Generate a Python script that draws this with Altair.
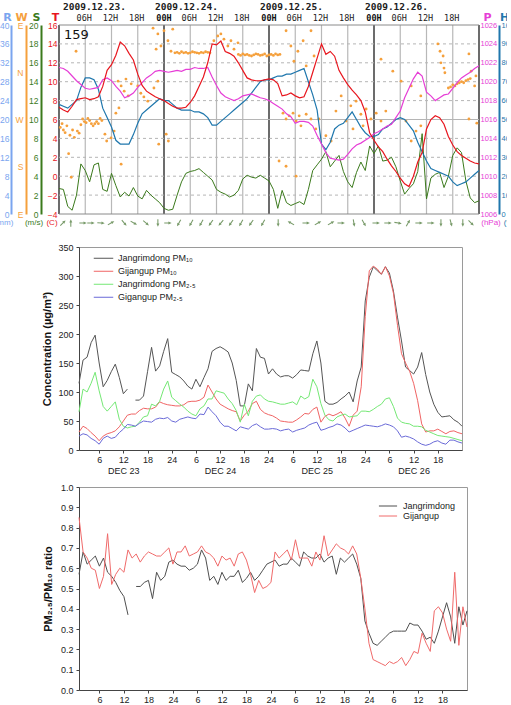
import altair as alt
import pandas as pd

# ---------------- top panel data (hourly, hour 0 = 2009-12-23 00H) ----------------
met_hours = list(range(0, 97))
temp_c = [7.3, 7.0, 6.8, 7.4, 8.1, 8.2, 8.3, 8.1, 8.2, 8.4,
          9.5, 11.2, 11.8, 12.8, 14.2, 13.8, 13.0, 12.3, 10.8, 9.6,
          9.0, 8.7, 8.4, 8.2, 8.0, 7.7, 7.4, 7.2, 7.2, 7.3,
          7.8, 8.5, 9.5, 10.5, 12.0, 14.0, 13.9, 14.3, 13.2, 13.0,
          12.7, 12.0, 11.2, 10.4, 10.2, 10.1, 10.1, 10.2, 10.3, 10.2,
          9.8, 8.5, 8.6, 8.8, 8.5, 8.3, 8.4, 9.5, 11.0, 12.5,
          14.0, 12.9, 13.2, 12.7, 11.2, 10.4, 9.7, 9.1, 8.6, 8.0,
          6.8, 4.6, 3.8, 3.1, 2.6, 1.8, 1.1, 0.5, -0.2, -0.8,
          -1.1, 0.0, 1.5, 2.5, 5.0, 6.0, 6.4, 6.2, 5.5, 4.2,
          3.3, 2.6, 2.2, 1.9, 1.6, 1.4, 1.3]
rh_pct = [58, 57, 56, 58, 60, 67, 72, 72, 71, 66,
          56, 51, 46, 39, 37, 37, 37, 42, 48, 53,
          55, 57, 59, 61, 60, 60, 58, 56, 55, 55,
          55, 54, 54, 53, 51, 47, 47, 49, 51, 53,
          55, 57, 59, 61, 64, 67, 70, 71, 71, 72,
          73, 73, 74, 74, 75, 76, 77, 70, 63, 55,
          37, 34, 38, 45, 47, 48, 51, 54, 50, 46,
          43, 41, 41, 42, 45, 46, 48, 50, 51, 50,
          47, 44, 38, 33, 28, 24, 23, 22, 21, 20,
          17, 15, 16, 17, 19, 21, 23]
press_hpa = [1021.5, 1021.4, 1021.1, 1020.6, 1020.1, 1019.7, 1019.3, 1019.2, 1019.3, 1019.4,
             1020.2, 1020.4, 1020.1, 1019.5, 1019.0, 1018.3, 1018.5, 1018.8, 1019.4, 1019.9,
             1020.4, 1020.7, 1021.1, 1021.2, 1021.1, 1021.0, 1021.1, 1021.2, 1021.1, 1021.3,
             1021.3, 1021.5, 1021.4, 1021.4, 1021.5, 1020.5, 1019.6, 1018.8, 1018.4, 1018.2,
             1018.0, 1018.2, 1018.5, 1018.6, 1018.7, 1018.5, 1018.3, 1018.2, 1018.0, 1017.7,
             1017.4, 1017.1, 1016.6, 1016.3, 1015.6, 1015.8, 1015.8, 1015.7, 1015.3, 1014.3,
             1013.4, 1012.5, 1011.9, 1011.8, 1011.7, 1011.8, 1012.3, 1012.9, 1013.3, 1013.5,
             1013.8, 1014.1, 1014.5, 1014.7, 1015.0, 1015.3, 1015.5, 1016.2, 1016.9, 1018.3,
             1019.3, 1020.3, 1021.0, 1020.6, 1018.9, 1018.5, 1018.0, 1018.3, 1018.6, 1018.7,
             1019.3, 1019.9, 1020.4, 1020.7, 1021.0, 1021.4, 1021.7]
wspd_ms = [2.7, 2.6, 0.8, 0.4, 2.0, 5.3, 4.6, 3.4, 5.2, 5.4,
           2.6, 2.4, 4.3, 3.0, 1.8, 2.3, 1.9, 2.8, 1.9, 1.6,
           2.5, 2.0, 1.6, 1.2, 0.6, 0.4, 0.5, 2.0, 3.4, 4.3,
           4.5, 4.6, 4.8, 4.4, 4.0, 3.6, 2.6, 2.3, 2.1, 1.8,
           2.0, 2.5, 3.7, 4.1, 3.9, 3.8, 4.1, 3.8, 3.5, 2.6,
           0.6, 2.5, 1.2, 0.9, 1.1, 1.3, 1.0, 2.6, 4.6, 5.2,
           5.8, 6.6, 5.0, 5.6, 6.2, 4.5, 3.4, 2.8, 4.4, 5.5,
           4.6, 7.2, 6.4, 7.2, 5.6, 5.7, 6.0, 5.0, 3.5, 2.1,
           2.7, 3.2, 4.5, 8.5, 1.6, 3.8, 4.2, 4.4, 2.8, 4.0,
           6.2, 7.0, 6.5, 3.5, 1.7, 1.2, 1.4]
rain_hours = [0, 96]
rain_mm = [0, 0]

# wind direction scatter (axis units: 90=E, 180=S, 270=W, 360=N, 450=E)
wdir_hour = [0.3, 0.7, 1.0, 1.4, 1.8, 2.2, 2.5, 2.8, 3.1, 3.5, 3.9, 4.2, 4.6, 5.0, 5.4, 5.8, 6.2, 6.6, 7.0, 7.4,
             7.8, 8.2, 8.6, 9.0, 9.4, 9.8,
             10.5, 10.9, 11.9, 12.6, 13.0, 13.5, 13.7, 14.2, 14.2, 14.9, 15.3, 15.8, 16.5,
             18.0, 18.7, 19.4, 20.3, 21.5, 21.7, 22.2, 22.6, 22.6, 22.8, 23.3, 24.0, 24.5, 24.9, 25.0, 25.6, 26.0,
             26.5, 27.0, 27.5, 28.0, 28.5, 29.0, 29.5, 30.0, 30.5, 31.0, 31.5, 32.0, 32.5, 33.0, 33.5, 34.0, 34.5,
             35.4, 36.3, 37.0, 37.7, 38.6, 39.3, 40.0, 40.9,
             41.0, 41.5, 42.0, 42.5, 43.0, 43.5, 44.0, 44.5, 45.0, 45.5, 46.0, 46.5, 47.0, 47.5, 48.0, 48.5,
             49.0, 49.5, 50.0, 50.5,
             51.2, 51.9, 51.9, 52.6, 53.0, 53.5, 53.7, 54.2, 54.6, 54.9, 55.3, 55.8, 56.5, 56.5, 57.6, 57.6,
             58.3, 58.7, 59.4, 61.0, 62.2, 50.3, 51.9, 54.2,
             63.3, 64.5, 65.6, 66.7, 67.2, 67.9, 69.0, 69.5, 70.2, 71.3, 72.5, 73.6, 74.7,
             73.6, 76.3, 78.2, 79.3, 80.5, 80.5, 81.6, 82.7, 82.7,
             86.6, 87.1, 87.3, 87.8, 88.0, 88.2,
             89.0, 89.5, 90.0, 90.5, 91.0, 91.5, 92.0, 92.5, 93.0, 93.5, 94.0,
             93.7, 93.7, 94.2, 95.0, 95.3, 95.5]
wdir_deg = [255, 262, 250, 245, 258, 205, 240, 160, 250, 236, 400, 248, 244, 260, 271, 266, 264, 272, 268, 262,
            258, 262, 266, 262, 272, 268,
            242, 229, 235, 248, 282, 343, 292, 334, 185, 324, 347, 315, 338,
            334, 320, 313, 305, 444, 330, 404, 343, 433, 223, 410, 439, 242, 420, 229, 400, 442,
            397, 398, 396, 399, 397, 398, 396, 397, 399, 398, 397, 396, 398, 397, 399, 398, 397,
            420, 429, 433, 423, 410, 420, 404, 416,
            394, 392, 395, 393, 394, 392, 391, 393, 395, 394, 392, 393, 395, 391, 393, 394,
            392, 395, 393, 394,
            282, 271, 439, 277, 410, 282, 381, 267, 400, 277, 258, 420, 280, 372, 271, 439,
            391, 252, 271, 239, 229, 191, 181, 162,
            286, 315, 267, 296, 252, 305, 280, 258, 290, 271, 282, 267, 286,
            385, 362, 343, 267, 334, 229, 248, 315, 258,
            414, 400, 378, 391, 368, 359,
            330, 332, 336, 334, 338, 340, 342, 340, 344, 346, 348,
            271, 395, 362, 334, 353, 263]

# wind arrows (direction the arrow points, degrees clockwise from up)
arrow_hour = [0.9, 2.7, 5.5, 7.3, 9.6, 11.9, 14.9, 17.1, 19.9, 22.6, 24.9, 27.4, 30.2, 32.5, 34.7, 37.0, 39.3,
              41.6, 43.9, 46.6, 50.1, 53.0, 56.5, 59.2, 62.2, 64.5, 67.4, 69.7, 72.5, 75.2, 77.5, 79.8, 82.3,
              85.0, 87.3, 89.6, 92.3, 94.2]
arrow_angle = [45, 0, 90, 90, 95, 60, 140, 120, 130, 180, 90, 210, 210, 210, 215, 220, 215,
               210, 215, 210, 180, 300, 90, 60, 60, 90, 170, 150, 90, 90, 100, 30, 90,
               90, 180, 165, 180, 135]
grid_hours = [0, 6, 12, 18, 24, 30, 36, 42, 48, 54, 60, 66, 72, 78, 84, 90, 96]
temp_grid = [-4, -2, 0, 2, 4, 6, 8, 10, 12, 14, 16]
hour_tick_hours = [6, 12, 18, 24, 30, 36, 42, 48, 54, 60, 66, 72, 78, 84, 90]
hour_tick_labels = ['06H', '12H', '18H', '00H', '06H', '12H', '18H', '00H', '06H', '12H', '18H', '00H',
                    '06H', '12H', '18H']
date_hours = [0, 24, 48, 72]
date_labels = ['2009.12.23.', '2009.12.24.', '2009.12.25.', '2009.12.26.']

# ---------------- middle / bottom panel data (hour 1 = Dec 23 01h) ----------------
conc_hour = list(range(1, 97))
jang_pm10 = [115, 155, 160, 185, 198, 150, 109, 120, 135, 148,
             125, 97, 105, None, 86, 86, 93, 135, 177, 136,
             145, 170, 192, 134, 130, 126, 119, 110, 105, 122,
             109, 125, 140, 170, 175, 178, 174, 169, 150, 120,
             76, 76, 114, 102, 175, 160, 158, 131, 140, 131,
             126, 128, 128, 124, 130, 138, 137, 136, 166, 188,
             150, 84, 79, 79, 82, 88, 93, 100, 83, 119,
             143, 257, 298, 316, 309, 303, 316, 305, 274, 229,
             188, 143, 137, 131, 143, 168, 130, 100, 79, 65,
             57, 58, 59, 52, 48, 41]
gij_pm10 = [31, 41, 37, 30, 24, 16, 24, 28, 30, 33,
            40, 50, 60, 62, 62, 68, 72, 71, 71, 74,
            83, 80, 78, 77, 76, 76, 78, 83, 84, 84,
            86, 91, 112, 100, 88, 79, 75, 71, 68, 66,
            50, 60, 67, 80, 84, 70, 64, 61, 59, 55,
            50, 49, 48, 48, 52, 57, 63, 62, 70, 74,
            48, 58, 62, 59, 62, 66, 55, 41, 60, 67,
            109, 230, 309, 317, 312, 303, 316, 300, 270, 215,
            166, 150, 136, 115, 85, 45, 31, 33, 33, 36,
            32, 28, 32, 33, 30, 28]
jang_pm25 = [66, 105, 100, 115, 134, 102, 75, 67, 75, 83,
             53, 41, 38, 40, 41, 48, 57, 59, 79, 76,
             84, 105, 119, 91, 85, 79, 74, 67, 62, 59,
             71, 76, 88, 88, 102, 100, 98, 88, 80, 68,
             48, 79, 59, 84, 93, 95, 88, 84, 83, 81,
             79, 79, 81, 83, 78, 93, 88, 92, 122, 109,
             80, 60, 52, 50, 57, 60, 62, 57, 58, 59,
             67, 67, 66, 70, 75, 79, 88, 90, 75, 55,
             48, 46, 45, 41, 41, 40, 34, 31, 28, 25,
             24, 23, 22, 20, 18, 16]
gig_pm25 = [24, 28, 26, 20, 16, 10, 20, 24, 20, 22,
            30, 36, 44, 43, 41, 46, 50, 49, 48, 53,
            55, 54, 56, 50, 48, 53, 55, 57, 55, 54,
            62, 61, 74, 66, 59, 48, 41, 41, 37, 33,
            40, 38, 36, 42, 45, 40, 36, 36, 37, 36,
            33, 35, 36, 31, 34, 36, 38, 43, 46, 48,
            34, 36, 39, 41, 45, 43, 38, 31, 34, 37,
            40, 43, 42, 41, 40, 42, 45, 43, 40, 33,
            22, 24, 22, 19, 14, 10, 8, 10, 14, 16,
            12, 10, 17, 17, 14, 12]
jang_ratio = [0.57, 0.68, 0.62, 0.64, 0.66, 0.61, 0.65, 0.58, 0.56, 0.53,
              0.49, 0.46, 0.37, None, 0.51, 0.51, 0.53, 0.54, 0.45, 0.58,
              0.54, 0.56, 0.63, 0.64, 0.62, 0.61, 0.61, 0.59, 0.60, 0.62,
              0.69, 0.65, 0.54, 0.56, 0.52, 0.58, 0.54, 0.56, 0.56, 0.59,
              0.53, 0.55, 0.58, 0.54, 0.56, 0.59, 0.62, 0.63, 0.64, 0.61,
              0.62, 0.62, 0.65, 0.63, 0.61, 0.68, 0.66, 0.65, 0.65, 0.67,
              0.63, 0.65, 0.66, 0.57, 0.65, 0.63, 0.65, 0.67, 0.62, 0.55,
              0.34, 0.28, 0.23, 0.22, 0.24, 0.26, 0.28, 0.29, 0.29, 0.29,
              0.29, 0.33, 0.32, 0.32, 0.29, 0.25, 0.26, 0.23, 0.29, 0.36,
              0.43, 0.36, 0.23, 0.41, 0.32, 0.39]
gij_ratio = [0.85, 0.68, 0.65, 0.60, 0.59, 0.50, 0.56, 0.77, 0.52, 0.57,
             0.60, 0.58, 0.69, 0.65, 0.67, 0.63, 0.66, 0.68, 0.67, 0.66,
             0.66, 0.68, 0.70, 0.62, 0.68, 0.68, 0.71, 0.66, 0.67, 0.68,
             0.71, 0.68, 0.67, 0.65, 0.61, 0.66, 0.64, 0.65, 0.61, 0.67,
             0.68, 0.64, 0.57, 0.48, 0.54, 0.50, 0.51, 0.53, 0.68, 0.65,
             0.67, 0.69, 0.64, 0.74, 0.65, 0.65, 0.65, 0.61, 0.68, 0.64,
             0.76, 0.66, 0.69, 0.72, 0.70, 0.69, 0.67, 0.71, 0.67, 0.55,
             0.40, 0.23, 0.15, 0.14, 0.13, 0.12, 0.14, 0.13, 0.14, 0.16,
             0.12, 0.15, 0.19, 0.18, 0.28, 0.23, 0.19, 0.39, 0.41, 0.38,
             0.30, 0.24, 0.58, 0.22, 0.41, 0.31]

conc_names = ['Jangrimdong PM\u2081\u2080', 'Gijangup PM\u2081\u2080',
              'Jangrimdong PM\u2082.\u2085', 'Gigangup PM\u2082.\u2085']
conc_colors = ['#555555', '#f06464', '#74e874', '#6a6ad8']
ratio_names = ['Jangrimdong', 'Gijangup']
ratio_colors = ['#4f4f4f', '#f06a6a']

# ---------------- styling ----------------
RED, BLUE, PINK, GREEN, ORANGE, RAIN = '#e8161e', '#1f77ad', '#e63ed6', '#3b7a1c', '#f5a03c', '#7aa5ef'
TOPFONT = 'DejaVu Sans'
MONO = 'DejaVu Sans Mono'
LF = 'Liberation Sans'
SHIFT = 20            # top plot starts 20 px left of the shared panel origin
PW, PH = 400, 189     # shared-origin width (plot spans -SHIFT .. PW)

xs = alt.Scale(domain=[0, 96], range=[-SHIFT, PW], nice=False, zero=False)
tscale = alt.Scale(domain=[-4, 16], nice=False, zero=False)
one = pd.DataFrame({'k': [1]})


def spacer(left, top, bottom):
    # invisible diagonal rule that fixes the outer extent of a panel
    return alt.Chart(one).mark_rule(strokeOpacity=0, strokeWidth=0).encode(
        x=alt.value(-left), y=alt.value(-top), x2=alt.value(0), y2=alt.value(bottom))


def side_axis(orient, offset, values, title, color, tx, domain_color=None, label_expr=None, pad=2,
              size=8.5, **extra):
    kw = dict(orient=orient, offset=offset, values=values, title=title, titleAngle=0, titleX=tx, titleY=-5,
              titleAlign='center', titleBaseline='alphabetic', titleColor=color, titleFont=TOPFONT,
              titleFontSize=11, titleFontWeight='bold', labelColor=color, labelFont=LF, labelFontSize=size,
              labelPadding=pad, ticks=False, grid=False)
    if domain_color:
        kw.update(domain=True, domainColor=domain_color, domainWidth=2)
    else:
        kw.update(domain=False)
    if label_expr:
        kw['labelExpr'] = label_expr
    kw.update(extra)
    return alt.Axis(**kw)


met = pd.DataFrame({'h': met_hours, 'T': temp_c, 'RH': rh_pct, 'P': press_hpa, 'S': wspd_ms})
wdir = pd.DataFrame({'h': wdir_hour, 'deg': wdir_deg})
rain = pd.DataFrame({'h': rain_hours, 'R': rain_mm})
arrows = pd.DataFrame({'h': arrow_hour, 'ang': arrow_angle})
dates_df = pd.DataFrame({'h': date_hours, 'label': date_labels})
hours_df = pd.DataFrame({'h': hour_tick_hours, 'label': hour_tick_labels})

xq = alt.X('h:Q', scale=xs, axis=None)

vgrid = alt.Chart(pd.DataFrame({'h': grid_hours})).mark_rule().encode(
    x=xq, y=alt.value(0), y2=alt.value(PH),
    color=alt.condition('datum.h % 24 == 0', alt.value('#6c6c6c'), alt.value('#b8b8b8')),
    strokeWidth=alt.condition('datum.h % 24 == 0', alt.value(2), alt.value(1.2)),
)
hgrid = alt.Chart(pd.DataFrame({'t': temp_grid})).mark_rule(strokeWidth=1).encode(
    x=alt.XDatum(0, scale=xs, axis=None), x2=alt.X2Datum(96),
    y=alt.Y('t:Q', scale=tscale, axis=None),
    color=alt.condition('datum.t == -4 || datum.t == 16', alt.value('#8a8a8a'), alt.value('#b5b5b5')),
    strokeDash=alt.condition('datum.t == 6 || datum.t == -4 || datum.t == 16',
                             alt.value([1, 0]), alt.value([3, 3])),
)
hour_norm = alt.Chart(hours_df).transform_filter('datum.h % 24 != 0').mark_text(
    baseline='alphabetic', font=MONO, fontSize=8.5, color='#222', dx=-1).encode(
    x=xq, y=alt.value(-4), text='label:N')
hour_bold = alt.Chart(hours_df).transform_filter('datum.h % 24 == 0').mark_text(
    baseline='alphabetic', font=MONO, fontSize=8.5, fontWeight='bold', color='#111', dx=0).encode(
    x=xq, y=alt.value(-4), text='label:N')
date_first = alt.Chart(dates_df).transform_filter('datum.h == 0').mark_text(
    align='left', baseline='alphabetic', font=MONO, fontSize=9.5, fontWeight='bold',
    color='#222', dx=4).encode(x=xq, y=alt.value(-15), text='label:N')
date_rest = alt.Chart(dates_df).transform_filter('datum.h > 0').mark_text(
    align='left', baseline='alphabetic', font=MONO, fontSize=9.5, fontWeight='bold',
    color='#222', dx=-9).encode(x=xq, y=alt.value(-15), text='label:N')

r_layer = alt.Chart(rain).mark_line(opacity=0).encode(
    x=xq,
    y=alt.Y('R:Q', scale=alt.Scale(domain=[0, 40], nice=False),
            axis=side_axis('left', SHIFT + 48, list(range(0, 41, 4)), 'R', RAIN, -4, domain_color=RAIN, pad=2)))
w_layer = alt.Chart(wdir).mark_circle(size=8, color=ORANGE, opacity=1).encode(
    x=xq,
    y=alt.Y('deg:Q', scale=alt.Scale(domain=[90, 450], nice=False, zero=False),
            axis=side_axis('left', SHIFT + 33, [90, 180, 270, 360, 450], 'W', ORANGE, -5, domain_color=ORANGE,
                           label_expr="datum.value == 180 ? 'S' : datum.value == 270 ? 'W' : datum.value == 360 ? 'N' : 'E'",
                           pad=3)))
s_layer = alt.Chart(met).mark_line(color=GREEN, strokeWidth=1).encode(
    x=xq,
    y=alt.Y('S:Q', scale=alt.Scale(domain=[0, 20], nice=False),
            axis=side_axis('left', SHIFT + 18, list(range(0, 21, 2)), 'S', GREEN, -5, domain_color=GREEN, pad=3)))
h_layer = alt.Chart(met).mark_line(color=BLUE, strokeWidth=1.2).encode(
    x=xq,
    y=alt.Y('RH:Q', scale=alt.Scale(domain=[0, 100], nice=False),
            axis=side_axis('right', 20, list(range(0, 101, 10)), 'H', BLUE, 5, domain_color=BLUE, pad=2,
                           size=7.5, format='d')))
p_layer = alt.Chart(met).mark_line(color=PINK, strokeWidth=1.2).encode(
    x=xq,
    y=alt.Y('P:Q', scale=alt.Scale(domain=[1006, 1026], nice=False, zero=False),
            axis=side_axis('right', 0, list(range(1006, 1027, 2)), 'P', PINK, 8, pad=1, size=7.5, format='d')))
t_layer = alt.Chart(met).mark_line(color=RED, strokeWidth=1.2).encode(
    x=xq,
    y=alt.Y('T:Q', scale=tscale,
            axis=side_axis('left', SHIFT, list(range(-4, 17, 2)), 'T', RED, -4, pad=2)))
arrow_layer = alt.Chart(arrows).mark_point(shape='arrow', filled=True, size=55, color='#3f6f2a').encode(
    x=xq, y=alt.value(PH + 9), angle=alt.Angle('ang:Q', scale=None))

label159 = alt.Chart(one).mark_text(text='159', align='left', baseline='top', fontSize=13, font=TOPFONT,
                                    color='#111').encode(x=alt.value(-SHIFT + 5), y=alt.value(4))
units = [('(mm)', -75, RAIN), ('(m/s)', -45, GREEN), ('(C)', -27, RED), ('(hPa)', PW + 12, PINK),
         ('(%)', PW + 31, BLUE)]
unit_layers = [alt.Chart(one).mark_text(text=t, fontSize=8, font=LF, color=c, baseline='middle').encode(
    x=alt.value(xv), y=alt.value(PH + 9)) for t, xv, c in units]

top = alt.layer(vgrid, hgrid, hour_norm, hour_bold, date_first, date_rest, r_layer, w_layer, s_layer,
                h_layer, p_layer, t_layer, arrow_layer, label159, spacer(80, 24, PH + 25),
                *unit_layers).resolve_scale(y='independent').properties(
    width=PW, height=PH, view=alt.ViewBackground(stroke='transparent'))

# ---------------- middle / bottom panels ----------------


def long_df(names, series):
    rows = []
    for name, vals in zip(names, series):
        seg = 0
        for h, v in zip(conc_hour, vals):
            if v is None:
                seg += 1
                continue
            rows.append({'h': h, 'v': v, 'series': name, 'seg': f'{name}-{seg}'})
    return pd.DataFrame(rows)


conc = long_df(conc_names, [jang_pm10, gij_pm10, jang_pm25, gig_pm25])
ratio = long_df(ratio_names, [jang_ratio, gij_ratio])

xlabel_expr = ("datum.value % 24 == 12 ? ['12', 'DEC ' + (23 + floor(datum.value / 24))] : "
               "'' + (datum.value % 24 == 0 ? 24 : datum.value % 24)")
ax_common = dict(labelFont=LF, labelFontSize=9, labelColor='#222', tickColor='#444', domainColor='#444',
                 tickSize=3, grid=False, titleFont=LF, titleFontSize=11, titleFontWeight='bold', titleColor='#111',
                 labelOverlap=False)

MW, MH = 383, 203
mid_lines = alt.Chart(conc).mark_line(strokeWidth=1).encode(
    x=alt.X('h:Q', scale=alt.Scale(domain=[1, 96], nice=False, zero=False),
            axis=alt.Axis(values=list(range(6, 91, 6)), labelExpr=xlabel_expr, labelLineHeight=11,
                          labelPadding=2, title=None, labelFlush=False, **ax_common)),
    y=alt.Y('v:Q', scale=alt.Scale(domain=[0, 350], nice=False),
            axis=alt.Axis(values=list(range(0, 351, 50)), title='Concentration (\u00b5g/m\u00b3)',
                          labelPadding=3, titlePadding=5, **ax_common)),
    color=alt.Color('series:N', scale=alt.Scale(domain=conc_names, range=conc_colors),
                    legend=alt.Legend(orient='none', legendX=14, legendY=5, title=None, symbolType='stroke',
                                      symbolStrokeWidth=1, symbolSize=380, labelFont=LF, labelFontSize=9,
                                      labelColor='#222', rowPadding=0, clipHeight=12.5, labelOffset=4)),
    detail='seg:N')
mid = alt.layer(mid_lines, spacer(90, 10, MH + 29)).properties(width=MW, height=MH)

BW, BH = 388, 203
bxs = alt.Scale(domain=[1, 96], nice=False, zero=False)
bys = alt.Scale(domain=[0, 1], nice=False)
bot_lines = alt.Chart(ratio).mark_line(strokeWidth=1).encode(
    x=alt.X('h:Q', scale=bxs,
            axis=alt.Axis(values=list(range(6, 91, 6)),
                          labelExpr="'' + (datum.value % 24 == 0 ? 24 : datum.value % 24)",
                          labelPadding=2, title=None, labelFlush=False, **ax_common)),
    y=alt.Y('v:Q', scale=bys,
            axis=alt.Axis(values=[i / 10 for i in range(11)], format='.1f',
                          title='PM\u2082.\u2085/PM\u2081\u2080 ratio', labelPadding=3, titlePadding=7, **ax_common)),
    color=alt.Color('series:N', scale=alt.Scale(domain=ratio_names, range=ratio_colors),
                    legend=alt.Legend(orient='none', legendX=299, legendY=14, title=None, symbolType='stroke',
                                      symbolStrokeWidth=1, symbolSize=330, labelFont=LF, labelFontSize=9,
                                      labelColor='#222', rowPadding=0, clipHeight=10, labelOffset=5)),
    detail='seg:N')
bot = alt.layer(bot_lines, spacer(80, 10, BH + 14)).properties(width=BW, height=BH)

chart = alt.vconcat(top, mid, bot, spacing=-4).resolve_scale(color='independent').properties(
    padding={'left': -12, 'top': 0, 'right': -10, 'bottom': 0}, background='white'
).configure_view(stroke='#9a9a9a', strokeWidth=1)

chart.save("out.html", embed_options={"renderer": "svg", "actions": False})
